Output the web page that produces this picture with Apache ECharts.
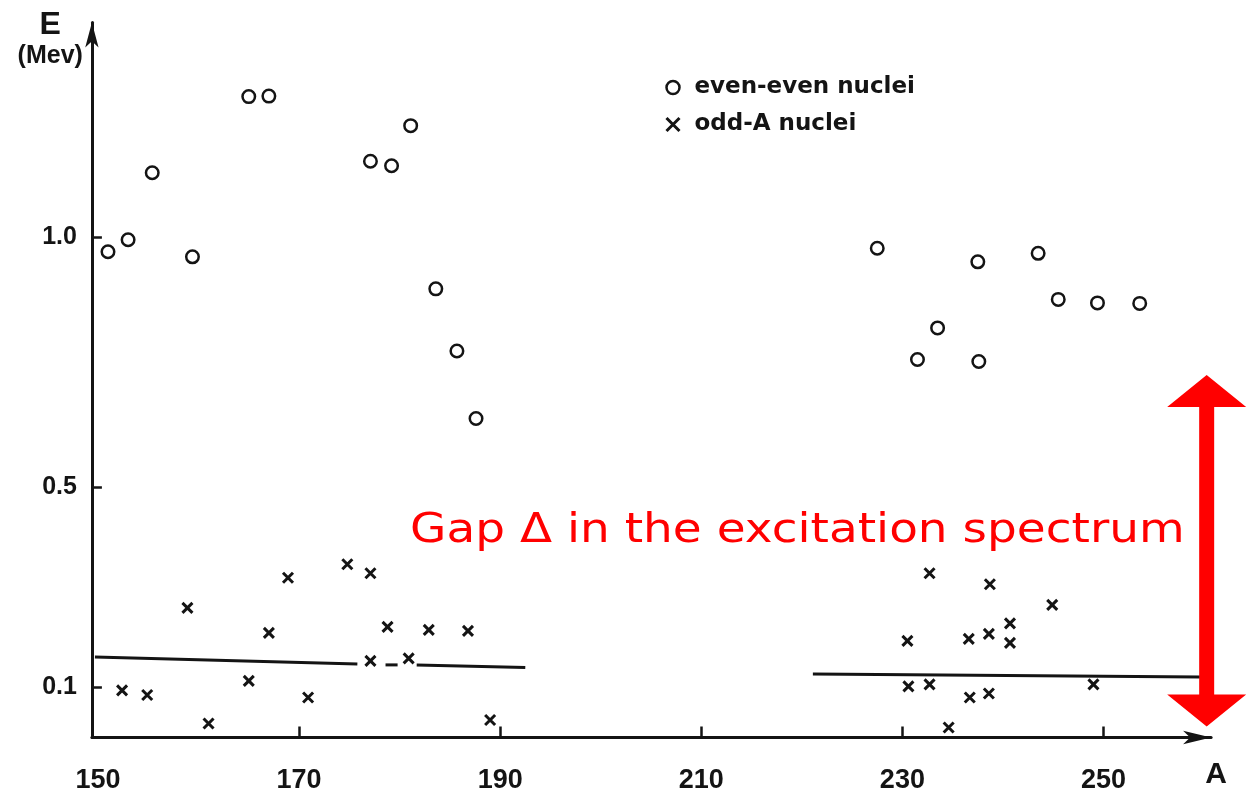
<!DOCTYPE html>
<html>
<head>
<meta charset="utf-8">
<script src="https://cdn.jsdelivr.net/npm/echarts@6/dist/echarts.min.js"></script>
<style>html,body{margin:0;padding:0;background:#fff}#c{width:1249px;height:796px}</style>
</head>
<body>
<div id="c"></div>
<script>
// ---- data ----
const evenA = [151.0, 153.0, 155.4, 159.4, 165.0, 167.0, 177.1, 179.2, 181.1, 183.6, 185.7, 187.6,
               227.5, 231.5, 233.5, 237.5, 237.6, 243.5, 245.5, 249.4, 253.6];
const evenE = [0.970, 0.994, 1.128, 0.960, 1.280, 1.281, 1.151, 1.142, 1.222, 0.896, 0.772, 0.637,
               0.977, 0.755, 0.818, 0.950, 0.751, 0.967, 0.875, 0.868, 0.867];
const oddA = [152.4, 154.9, 158.9, 161.0, 165.0, 167.0, 168.9, 170.9, 174.8, 177.1, 177.1, 178.8, 180.9, 182.9, 186.8, 189.0,
              230.5, 230.6, 232.7, 232.7, 234.6, 236.6, 236.7, 238.6, 238.7, 238.6, 240.7, 240.7, 244.9, 249.0];
const oddE = [0.094, 0.085, 0.259, 0.028, 0.113, 0.209, 0.319, 0.080, 0.346, 0.328, 0.153, 0.221, 0.158, 0.215, 0.213, 0.035,
              0.193, 0.102, 0.328, 0.106, 0.020, 0.197, 0.080, 0.207, 0.306, 0.088, 0.228, 0.189, 0.265, 0.106];
// gap boundary lines (A, E)
const gapLineA1 = [149.7, 175.8], gapLineE1 = [0.161, 0.147];
const gapLineA2 = [178.6, 179.8], gapLineE2 = [0.145, 0.145];
const gapLineA3 = [181.7, 192.5], gapLineE3 = [0.145, 0.140];
const gapLineA4 = [221.1, 259.6], gapLineE4 = [0.127, 0.121];
// ticks
const xTickLabels = [150, 170, 190, 210, 230, 250];
const xTickMarks = [170, 190, 210, 230, 250];
const yTickLabels = [0.1, 0.5, 1.0];
// annotation (data coords)
const gapArrowA = 260.26, gapArrowTopE = 0.724, gapArrowBottomE = 0.022;
const gapText = 'Gap \u0394 in the excitation spectrum';
const gapTextA = 181.04, gapTextE = 0.412;

const zip = (a, b) => a.map((v, i) => [v, b[i]]);
const ink = '#141414';

const chart = echarts.init(document.getElementById('c'));
const lineSeries = (A, E) => ({
  type: 'line', data: zip(A, E), symbol: 'none', silent: true,
  lineStyle: { color: ink, width: 3 }, z: 1
});
const option = {
  animation: false,
  backgroundColor: '#fff',
  grid: { left: 91.9, right: 37.9, top: 22.5, bottom: 58.5, containLabel: false },
  legend: {
    orient: 'vertical', left: 660, top: 71, itemGap: 14, itemWidth: 13, itemHeight: 13,
    data: [
      { name: 'even-even nuclei', itemStyle: { borderWidth: 2.5 } },
      { name: 'odd-A nuclei', itemStyle: { borderWidth: 3 } }
    ],
    textStyle: { fontFamily: 'DejaVu Sans', fontWeight: 'bold', fontSize: 23, color: ink, padding: [0, 0, 0, 10] }
  },
  xAxis: {
    type: 'value', min: 149.4, max: 260.7,
    name: 'A', nameLocation: 'end', nameGap: 0,
    nameTextStyle: { fontFamily: 'Liberation Sans', fontWeight: 'bold', fontSize: 30, color: ink,
      align: 'center', verticalAlign: 'top', padding: [22, 0, 0, 10] },
    axisLine: { show: true, onZero: false, symbol: ['none', 'arrow'], symbolSize: [10, 28], lineStyle: { color: ink, width: 3 } },
    axisTick: { show: true, inside: true, length: 11, customValues: xTickMarks, lineStyle: { color: ink, width: 2.5 } },
    axisLabel: { customValues: xTickLabels, margin: 30, fontFamily: 'Liberation Sans', fontWeight: 'bold', fontSize: 27, color: ink },
    splitLine: { show: false }
  },
  yAxis: {
    type: 'value', min: 0, max: 1.428,
    name: '{e|E}\n{m|(Mev)}', nameLocation: 'end', nameGap: 14,
    nameTextStyle: { align: 'right', verticalAlign: 'top', padding: [0, 9, 0, 0], color: ink,
      rich: {
        e: { fontFamily: 'Liberation Sans', fontWeight: 'bold', fontSize: 32, lineHeight: 34, align: 'center', color: ink },
        m: { fontFamily: 'Liberation Sans', fontWeight: 'bold', fontSize: 25, lineHeight: 28, align: 'center', color: ink }
      } },
    axisLine: { show: true, onZero: false, symbol: ['none', 'arrow'], symbolSize: [10, 25], lineStyle: { color: ink, width: 3 } },
    axisTick: { show: true, inside: true, length: 10, customValues: yTickLabels, lineStyle: { color: ink, width: 2.5 } },
    axisLabel: { customValues: yTickLabels, margin: 15, formatter: v => v.toFixed(1),
      fontFamily: 'Liberation Sans', fontWeight: 'bold', fontSize: 25, color: ink },
    splitLine: { show: false }
  },
  series: [
    { name: 'even-even nuclei', type: 'scatter', data: zip(evenA, evenE), symbol: 'circle', symbolSize: 12.5,
      itemStyle: { color: 'rgba(255,255,255,0)', borderColor: ink, borderWidth: 2.5, opacity: 1 }, z: 3 },
    { name: 'odd-A nuclei', type: 'scatter', data: zip(oddA, oddE), symbol: 'path://M0,0L10,10M10,0L0,10', symbolSize: 10,
      itemStyle: { color: 'rgba(255,255,255,0)', borderColor: ink, borderWidth: 3, opacity: 1 }, z: 3 },
    lineSeries(gapLineA1, gapLineE1),
    lineSeries(gapLineA2, gapLineE2),
    lineSeries(gapLineA3, gapLineE3),
    lineSeries(gapLineA4, gapLineE4)
  ]
};
chart.setOption(option);

// red annotation positioned through the chart's scales
const pTop = chart.convertToPixel({ gridIndex: 0 }, [gapArrowA, gapArrowTopE]);
const pBot = chart.convertToPixel({ gridIndex: 0 }, [gapArrowA, gapArrowBottomE]);
const cx = pTop[0], yT = pTop[1], yB = pBot[1];
const hw = 39.5, hh = 32, sw = 7.5;
const pTxt = chart.convertToPixel({ gridIndex: 0 }, [gapTextA, gapTextE]);
chart.setOption({
  graphic: [
    { type: 'polygon', z: 10, silent: true,
      shape: { points: [[cx, yT], [cx + hw, yT + hh], [cx + sw, yT + hh], [cx + sw, yB - hh], [cx + hw, yB - hh], [cx, yB],
                        [cx - hw, yB - hh], [cx - sw, yB - hh], [cx - sw, yT + hh], [cx - hw, yT + hh]] },
      style: { fill: '#ff0000' } },
    { type: 'text', z: 10, silent: true, x: pTxt[0], y: pTxt[1], scaleX: 1.145,
      style: { text: gapText, x: 0, y: 0, fill: '#ff0000', font: '41px "DejaVu Sans"',
               textAlign: 'left', textVerticalAlign: 'middle', verticalAlign: 'middle' } }
  ]
});
</script>
</body>
</html>
